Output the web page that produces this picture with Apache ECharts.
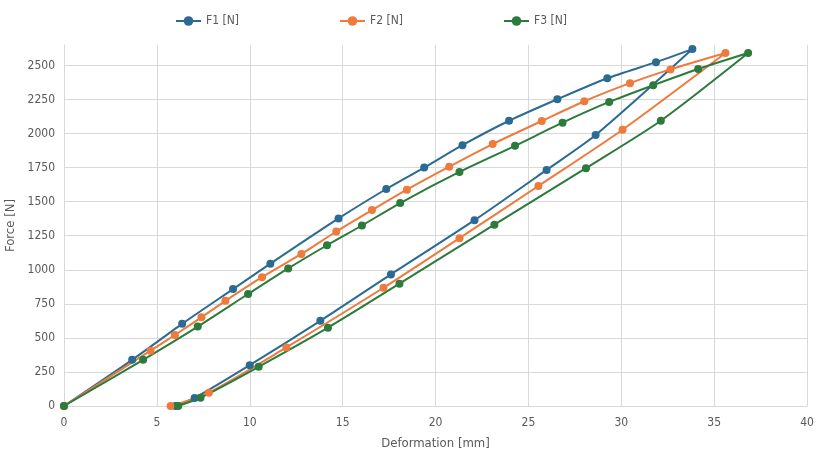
<!DOCTYPE html>
<html>
<head>
<meta charset="utf-8">
<script src="https://cdn.jsdelivr.net/npm/echarts@6/dist/echarts.min.js"></script>
<style>
html,body{margin:0;padding:0;background:#fff;}
#chart{width:816px;height:455px;}
</style>
</head>
<body>
<div id="chart"></div>
<script>
// Deformation [mm] values (x) and Force [N] values (y), loading then unloading
const f1X = [0, 3.67, 6.36, 9.10, 11.11, 14.78, 17.35, 19.39, 21.45, 23.96, 26.56, 29.25, 31.87, 33.83, 28.62, 25.98, 22.10, 17.60, 13.80, 10.00, 7.03, 6.00];
const f1Y = [0, 339, 603, 858, 1045, 1377, 1593, 1750, 1915, 2094, 2252, 2406, 2524, 2620, 1989, 1733, 1364, 966, 625, 300, 59, 0];

const f2X = [0, 4.66, 5.97, 7.40, 8.69, 10.66, 12.78, 14.66, 16.58, 18.46, 20.74, 23.08, 25.72, 28.01, 30.47, 32.65, 35.61, 30.07, 25.54, 21.29, 17.20, 11.97, 7.80, 5.74];
const f2Y = [0, 406, 521, 651, 772, 946, 1116, 1281, 1438, 1588, 1757, 1923, 2092, 2237, 2370, 2471, 2591, 2028, 1615, 1232, 868, 430, 98, 0];

const f3X = [0, 4.26, 7.20, 9.91, 12.07, 14.16, 16.04, 18.10, 21.29, 24.28, 26.84, 29.35, 31.72, 34.14, 36.83, 32.13, 28.10, 23.17, 18.06, 14.21, 10.48, 7.35, 6.15];
const f3Y = [0, 339, 583, 822, 1010, 1180, 1325, 1490, 1718, 1910, 2080, 2232, 2355, 2474, 2591, 2094, 1746, 1331, 898, 575, 288, 61, 0];

const seriesNames = ['F1 [N]', 'F2 [N]', 'F3 [N]'];
const seriesColors = ['#2b6a92', '#ee7a3c', '#2c7a3c'];
const xTicks = { min: 0, max: 40, interval: 5 };
const yTicks = { min: 0, max: 2650, interval: 250 };

function pairs(xs, ys) { return xs.map((x, i) => [x, ys[i]]); }
const allData = [pairs(f1X, f1Y), pairs(f2X, f2Y), pairs(f3X, f3Y)];

const FONT = '"Liberation Sans Narrow", "DejaVu Sans Condensed", "Roboto", sans-serif';
const chart = echarts.init(document.getElementById('chart'), null, { renderer: 'canvas' });
chart.setOption({
  animation: false,
  backgroundColor: '#ffffff',
  textStyle: { fontFamily: FONT },
  legend: {
    top: 10,
    left: 170,
    itemGap: 100,
    itemWidth: 25,
    itemHeight: 12,
    textStyle: { color: '#595959', fontSize: 12, fontFamily: FONT },
    data: seriesNames
  },
  grid: { left: 64, right: 9, top: 45, bottom: 49, containLabel: false, outerBoundsMode: 'none' },
  xAxis: {
    type: 'value',
    min: xTicks.min, max: xTicks.max, interval: xTicks.interval,
    name: 'Deformation [mm]',
    nameLocation: 'middle',
    nameGap: 31,
    nameTextStyle: { color: '#595959', fontSize: 13, fontFamily: FONT },
    axisLine: { show: true, lineStyle: { color: '#d9d9d9', width: 1 } },
    axisTick: { show: false },
    axisLabel: { color: '#595959', fontSize: 12, margin: 11, fontFamily: FONT,
      formatter: (v) => String(v) },
    splitLine: { show: true, lineStyle: { color: '#d9d9d9', width: 1 } }
  },
  yAxis: {
    type: 'value',
    min: yTicks.min, max: yTicks.max, interval: yTicks.interval,
    name: 'Force [N]',
    nameLocation: 'middle',
    nameGap: 42,
    nameTextStyle: { color: '#595959', fontSize: 13, fontFamily: FONT },
    axisLine: { show: true, lineStyle: { color: '#d9d9d9', width: 1 } },
    axisTick: { show: false },
    axisLabel: { color: '#595959', fontSize: 12, margin: 9, showMaxLabel: false, fontFamily: FONT,
      formatter: (v) => String(v) },
    splitLine: { show: true, showMaxLine: false, lineStyle: { color: '#d9d9d9', width: 1 } }
  },
  series: allData.map((d, i) => ({
    name: seriesNames[i],
    type: 'line',
    data: d,
    smooth: 0.25,
    symbol: 'circle',
    symbolSize: 8,
    showAllSymbol: true,
    color: seriesColors[i],
    itemStyle: { color: seriesColors[i] },
    lineStyle: { color: seriesColors[i], width: 2 }
  }))
});
</script>
</body>
</html>
